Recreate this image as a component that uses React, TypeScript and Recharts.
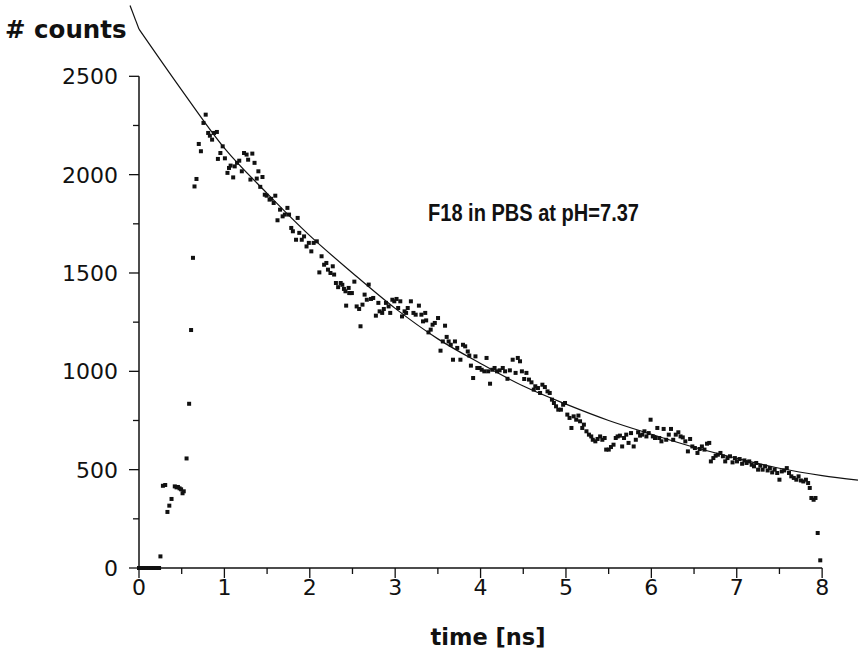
import React from "react";
import {
  ComposedChart,
  Line,
  Scatter,
  XAxis,
  YAxis,
  ReferenceLine,
  Customized,
} from "recharts";

// measured decay histogram (time in ns, counts)
const decayTimes = [
  0, 0.03, 0.06, 0.09, 0.12, 0.15, 0.18, 0.21, 0.235, 0.251, 0.28, 0.307, 0.333, 0.355, 0.381, 0.419, 0.44,
  0.456, 0.475, 0.493, 0.51, 0.524, 0.557, 0.587, 0.61, 0.632, 0.65, 0.673, 0.7, 0.725, 0.755, 0.781, 0.81,
  0.83, 0.856, 0.879, 0.912, 0.924, 0.953, 0.98, 1.006, 1.036, 1.054, 1.073, 1.103, 1.121, 1.148, 1.174,
  1.204, 1.23, 1.26, 1.278, 1.305, 1.327, 1.353, 1.379, 1.398, 1.42, 1.446, 1.473, 1.495, 1.529, 1.547,
  1.577, 1.596, 1.622, 1.652, 1.682, 1.708, 1.738, 1.757, 1.783, 1.802, 1.839, 1.858, 1.877, 1.906, 1.933,
  1.962, 1.989, 2.018, 2.045, 2.082, 2.112, 2.138, 2.168, 2.194, 2.213, 2.242, 2.269, 2.285, 2.306, 2.332,
  2.362, 2.381, 2.4, 2.418, 2.426, 2.455, 2.462, 2.474, 2.493, 2.522, 2.549, 2.578, 2.594, 2.617, 2.642,
  2.668, 2.69, 2.717, 2.743, 2.774, 2.803, 2.818, 2.848, 2.867, 2.892, 2.923, 2.942, 2.967, 2.99, 3.016,
  3.035, 3.06, 3.08, 3.11, 3.128, 3.147, 3.184, 3.214, 3.24, 3.278, 3.307, 3.326, 3.352, 3.363, 3.39, 3.416,
  3.438, 3.464, 3.502, 3.531, 3.558, 3.584, 3.603, 3.626, 3.651, 3.677, 3.7, 3.727, 3.764, 3.794, 3.82,
  3.85, 3.868, 3.887, 3.913, 3.94, 3.962, 3.988, 4.013, 4.044, 4.07, 4.089, 4.111, 4.137, 4.164, 4.193,
  4.223, 4.26, 4.287, 4.315, 4.343, 4.376, 4.41, 4.436, 4.462, 4.484, 4.511, 4.537, 4.567, 4.596, 4.623,
  4.641, 4.672, 4.697, 4.724, 4.753, 4.784, 4.81, 4.836, 4.859, 4.884, 4.91, 4.941, 4.967, 4.989, 5.016,
  5.042, 5.064, 5.09, 5.12, 5.146, 5.165, 5.191, 5.21, 5.24, 5.269, 5.296, 5.314, 5.344, 5.37, 5.4, 5.426,
  5.453, 5.471, 5.501, 5.527, 5.557, 5.583, 5.605, 5.632, 5.658, 5.68, 5.706, 5.733, 5.762, 5.793, 5.818,
  5.845, 5.868, 5.893, 5.919, 5.942, 5.969, 5.991, 6.017, 6.043, 6.07, 6.092, 6.118, 6.144, 6.174, 6.204,
  6.23, 6.256, 6.286, 6.316, 6.342, 6.368, 6.398, 6.428, 6.454, 6.48, 6.51, 6.54, 6.566, 6.592, 6.622,
  6.652, 6.678, 6.697, 6.726, 6.753, 6.779, 6.809, 6.838, 6.865, 6.891, 6.921, 6.951, 6.978, 7.003, 7.034,
  7.063, 7.09, 7.115, 7.146, 7.175, 7.202, 7.228, 7.25, 7.276, 7.303, 7.332, 7.362, 7.388, 7.415, 7.444,
  7.474, 7.5, 7.527, 7.556, 7.586, 7.612, 7.639, 7.668, 7.698, 7.724, 7.751, 7.78, 7.81, 7.836, 7.855,
  7.874, 7.9, 7.922, 7.948, 7.978,
];
const decayCounts = [
  0, 0, 0, 0, 0, 0, 0, 0, 0, 59, 418, 422, 285, 317, 351, 415, 410,
  412, 405, 400, 380, 390, 557, 835, 1210, 1577, 1940, 1978, 2156, 2119, 2263, 2305, 2212,
  2198, 2178, 2212, 2217, 2080, 2110, 2144, 2083, 2009, 2034, 2046, 1986, 2042, 2060, 2071,
  2017, 2110, 2102, 2076, 1975, 2107, 2060, 1980, 2017, 1938, 1988, 1898, 1893, 1873, 1877,
  1856, 1893, 1768, 1822, 1788, 1797, 1831, 1797, 1729, 1712, 1669, 1780, 1704, 1669, 1686,
  1635, 1653, 1610, 1653, 1661, 1503, 1585, 1542, 1551, 1517, 1500, 1534, 1492, 1449, 1428,
  1449, 1440, 1419, 1407, 1334, 1424, 1398, 1398, 1398, 1456, 1330, 1317, 1229, 1339, 1390,
  1364, 1441, 1368, 1373, 1283, 1348, 1305, 1297, 1317, 1348, 1330, 1297, 1364, 1356, 1368,
  1322, 1356, 1279, 1305, 1297, 1322, 1356, 1297, 1288, 1334, 1288, 1254, 1297, 1259, 1198, 1212,
  1237, 1246, 1271, 1105, 1152, 1232, 1175, 1152, 1135, 1059, 1152, 1119, 1059, 1135, 1127,
  1101, 1080, 1029, 966, 1076, 1017, 1017, 1008, 1000, 1068, 1000, 937, 1008, 1017, 1000,
  1005, 1017, 1000, 962, 1005, 1059, 992, 1068, 1051, 1000, 961, 992, 958, 944, 907,
  924, 915, 890, 932, 920, 898, 890, 856, 839, 822, 805, 805, 830, 839, 780,
  763, 712, 771, 754, 775, 746, 712, 729, 695, 678, 669, 652, 644, 656, 669, 652,
  661, 602, 602, 615, 627, 661, 669, 673, 618, 661, 678, 636, 686, 618, 652,
  690, 673, 678, 695, 669, 686, 754, 669, 661, 712, 661, 644, 707, 652, 678,
  707, 652, 678, 690, 669, 664, 644, 593, 656, 618, 610, 585, 605, 618, 602,
  632, 636, 542, 559, 571, 576, 585, 568, 542, 559, 568, 537, 559, 542, 554,
  530, 547, 534, 542, 525, 517, 534, 500, 520, 500, 517, 496, 508, 486, 500,
  483, 449, 491, 496, 508, 483, 466, 458, 449, 466, 445, 440, 449, 432, 407,
  356, 347, 356, 178, 39,
];

// fitted single-exponential curve, read at 0.5 ns steps
const fitTimes = [0, 0.5, 1, 1.5, 2, 2.5, 3, 3.5, 4, 4.5, 5, 5.5, 6, 6.5, 7, 7.5, 8, 8.42];
const fitCounts = [2740, 2430, 2135, 1905, 1690, 1500, 1320, 1165, 1040, 925, 833, 750, 680, 614, 558, 507, 470, 447];
// start of the fitted curve, left of the time origin
const fitLeadTime = -0.105;
const fitLeadCount = 2860;

const xTicks = [0, 0.5, 1, 1.5, 2, 2.5, 3, 3.5, 4, 4.5, 5, 5.5, 6, 6.5, 7, 7.5, 8];
const yTicks = [0, 250, 500, 750, 1000, 1250, 1500, 1750, 2000, 2250, 2500];

const decayData = decayTimes.map((t, i) => ({ t, y: decayCounts[i] }));
const fitData = fitTimes.map((t, i) => ({ t, y: fitCounts[i] }));

const TICK_FONT = "'DejaVu Sans', Verdana, sans-serif";
const TITLE_FONT = "'Liberation Sans', Arial, Helvetica, sans-serif";
const INK = "#111";

const YTick = (props: any) => {
  const { x, y, payload } = props;
  const major = payload.value % 500 === 0;
  return (
    <g>
      <line x1={x} x2={x - (major ? 10 : 6)} y1={y} y2={y} stroke={INK} strokeWidth={1.3} />
      {major && (
        <text x={x - 21} y={y} dy="0.36em" textAnchor="end" fontSize={22} fontFamily={TICK_FONT} fill={INK}>
          {payload.value}
        </text>
      )}
    </g>
  );
};

const XTick = (props: any) => {
  const { x, y, payload } = props;
  const major = Number.isInteger(payload.value);
  return (
    <g>
      <line x1={x} x2={x} y1={y} y2={y + (major ? 10 : 6)} stroke={INK} strokeWidth={1.3} />
      {major && (
        <text x={x} y={y + 27} textAnchor="middle" fontSize={22} fontFamily={TICK_FONT} fill={INK}>
          {payload.value}
        </text>
      )}
    </g>
  );
};

const Square = (props: any) => {
  const { cx, cy } = props;
  if (cx == null || cy == null) return null;
  return <rect x={cx - 2} y={cy - 2} width={4} height={4} fill={INK} />;
};

const Texts = () => (
  <g fontWeight="bold" fill={INK}>
    <text x={5} y={38} fontSize={24.5} fontFamily={TICK_FONT}>
      # counts
    </text>
    <text
      x={428}
      y={221}
      fontSize={23.5}
      fontFamily={TITLE_FONT}
      textLength={211}
      lengthAdjust="spacingAndGlyphs"
    >
      F18 in PBS at pH=7.37
    </text>
    <text x={488} y={645} fontSize={22.5} fontFamily={TICK_FONT} textAnchor="middle">
      time [ns]
    </text>
  </g>
);

export default function App() {
  return (
    <div style={{ position: "absolute", left: 0, top: 0, width: 858, height: 655, background: "#fff" }}>
      <ComposedChart width={858} height={655} margin={{ top: 0, right: 0, bottom: 57, left: 79 }}>
        <XAxis
          xAxisId={0}
          dataKey="t"
          type="number"
          domain={[0, 8.42]}
          ticks={xTicks}
          interval={0}
          axisLine={false}
          tickLine={false}
          tickSize={0}
          tickMargin={0}
          tick={<XTick />}
          height={30}
        />
        <YAxis
          yAxisId={0}
          type="number"
          domain={[0, 2888]}
          ticks={yTicks}
          interval={0}
          axisLine={false}
          tickLine={false}
          tickSize={0}
          tickMargin={0}
          tick={<YTick />}
          width={60}
        />
        <ReferenceLine
          segment={[{ x: 0, y: 0 }, { x: 0, y: 2500 }]}
          stroke={INK}
          strokeWidth={1.5}
          ifOverflow="visible"
        />
        <ReferenceLine
          segment={[{ x: 0, y: 0 }, { x: 8, y: 0 }]}
          stroke={INK}
          strokeWidth={1.5}
          ifOverflow="visible"
        />
        <ReferenceLine
          segment={[{ x: fitLeadTime, y: fitLeadCount }, { x: fitTimes[0], y: fitCounts[0] }]}
          stroke={INK}
          strokeWidth={1.2}
          ifOverflow="visible"
        />
        <Line
          data={fitData}
          dataKey="y"
          type="monotone"
          stroke={INK}
          strokeWidth={1.2}
          dot={false}
          activeDot={false}
          isAnimationActive={false}
        />
        <Scatter data={decayData} dataKey="y" fill={INK} shape={<Square />} isAnimationActive={false} />
        <Customized component={Texts} />
      </ComposedChart>
    </div>
  );
}
